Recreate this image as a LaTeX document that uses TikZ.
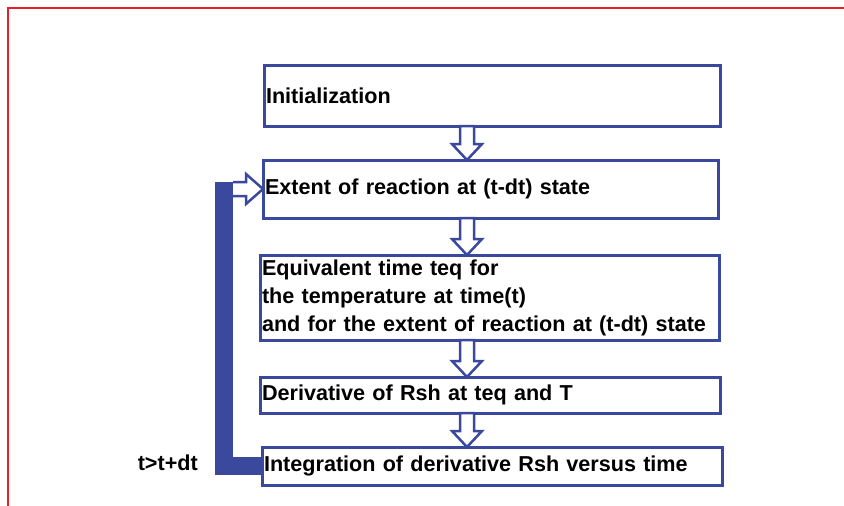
\documentclass[tikz,border=0pt]{standalone}
\usepackage{fontspec}
\setmainfont{Liberation Sans}
\usetikzlibrary{calc}
\definecolor{flowblue}{RGB}{58,72,158}
\definecolor{framered}{RGB}{232,30,45}

\begin{document}
\begin{tikzpicture}[x=1pt,y=-1pt,font=\fontsize{21.6}{28}\selectfont\bfseries,
box/.style={draw=flowblue,line width=3pt,anchor=west,align=left,inner xsep=2pt,inner ysep=0pt,outer sep=0pt,text width=#1},
hollow/.style={draw=flowblue,fill=white,line width=2.5pt,line join=miter}]
\useasboundingbox (0,0) rectangle (844,506);
\draw[framered,line width=2pt] (8,506)--(8,8)--(844,8);
\node[box=452pt,minimum height=61pt] (init) at (264,95.5) {Initialization};
\node[box=451pt,minimum height=58pt] (ext) at (263,189) {Extent of reaction at (t-dt) state};
\node[box=455pt,minimum height=85pt] (equiv) at (260,297.5) {Equivalent time teq for\\the temperature at time(t)\\and for the extent of reaction at (t-dt) state};
\node[box=456pt,minimum height=36pt] (deriv) at (260,395) {Derivative of Rsh at teq and T};
\node[box=456pt,minimum height=38pt] (integ) at (262,466) {Integration of derivative Rsh versus time};
\node[anchor=base east,inner sep=0pt] (cond) at (198,470) {t>t+dt};
\coordinate (axis) at (467,0);
\foreach \a/\b in {init/ext,ext/equiv,equiv/deriv,deriv/integ}
\draw[hollow] ($(\a.south -| axis)+(-7,0)$)--($(\a.south -| axis)+(7,0)$)--($(\b.north -| axis)+(7,-16)$)--($(\b.north -| axis)+(15,-16)$)--(\b.north -| axis)--($(\b.north -| axis)+(-15,-16)$)--($(\b.north -| axis)+(-7,-16)$)--cycle;
\coordinate (loop) at ($(ext.west)+(-39,-7)$);
\draw[flowblue,line width=18pt] (integ.west) -| (loop);
\draw[hollow] ($(ext.west)+(-30,-7)$)--($(ext.west)+(-17,-7)$)--($(ext.west)+(-17,-15)$)--(ext.west)--($(ext.west)+(-17,15)$)--($(ext.west)+(-17,7)$)--($(ext.west)+(-30,7)$);
\end{tikzpicture}
\end{document}
